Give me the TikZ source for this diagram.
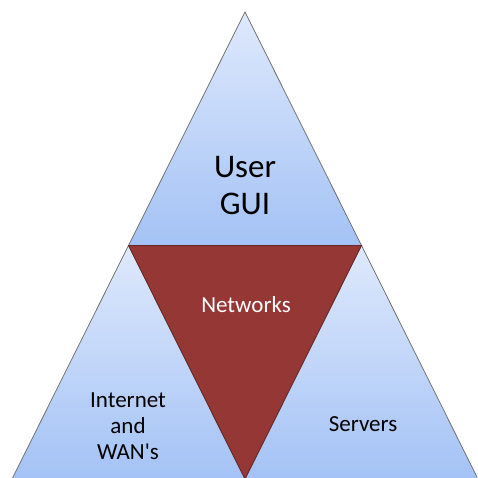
\documentclass[tikz,border=0pt]{standalone}
\usepackage{fontspec}
\setmainfont{Carlito}
\definecolor{paleblue}{RGB}{222,233,252}
\definecolor{deepblue}{RGB}{164,194,245}
\definecolor{netred}{RGB}{149,55,53}
\tikzset{
  piece/.style={draw=gray!90!black, line width=0.8pt, top color=paleblue, bottom color=deepblue},
  netpiece/.style={draw=netred!70!black, line width=0.8pt, fill=netred},
  bigtext/.style={align=center, font=\fontsize{33}{37}\selectfont},
  smalltext/.style={align=center, font=\fontsize{23}{26}\selectfont}
}
\begin{document}
\begin{tikzpicture}[x=1pt,y=-1pt]
      \useasboundingbox (0,0) rectangle (477,478);
      \clip (0,0) rectangle (477,478);

      \coordinate (apex) at (245,12);
      \coordinate (ml) at (128.5,245.5);
      \coordinate (mr) at (361.5,245.5);
      \coordinate (bl) at (12,479);
      \coordinate (bm) at (245,479);
      \coordinate (br) at (478,479);

      %% the three blue corners
      \draw[piece] (apex) -- (ml) -- (mr) -- cycle;
      \draw[piece] (ml) -- (bl) -- (bm) -- cycle;
      \draw[piece] (mr) -- (bm) -- (br) -- cycle;

      %% the middle one
      \draw[netpiece] (ml) -- (mr) -- (bm) -- cycle;

      \node[bigtext] (user) at (245,186) {User\\GUI};
      \node[smalltext, anchor=base, text=white] (net) at (246,312) {Networks};
      \node[smalltext] (inet) at (128,426) {Internet\\and\\WAN\textquotesingle s};
      \node[smalltext, anchor=base] (serv) at (363,431) {Servers};
\end{tikzpicture}
\end{document}
